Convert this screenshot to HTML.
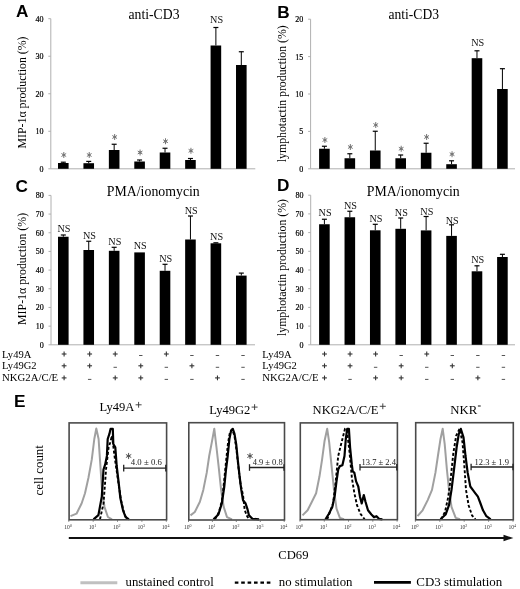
<!DOCTYPE html>
<html><head><meta charset="utf-8"><title>Figure</title>
<style>html,body{margin:0;padding:0;background:#fff;width:520px;height:589px;overflow:hidden;font-family:"Liberation Serif",serif;}svg{display:block;will-change:transform}</style>
</head><body>
<svg width="520" height="589" viewBox="0 0 520 589">
<rect width="520" height="589" fill="#fff"/>
<text x="16.0" y="17.2" font-family="'Liberation Sans', sans-serif" font-size="17.2" fill="#000" text-anchor="start" font-weight="bold">A</text>
<text x="277.3" y="17.9" font-family="'Liberation Sans', sans-serif" font-size="17.2" fill="#000" text-anchor="start" font-weight="bold">B</text>
<text x="15.6" y="191.9" font-family="'Liberation Sans', sans-serif" font-size="17.2" fill="#000" text-anchor="start" font-weight="bold">C</text>
<text x="277.0" y="191.4" font-family="'Liberation Sans', sans-serif" font-size="17.2" fill="#000" text-anchor="start" font-weight="bold">D</text>
<text x="13.9" y="407.0" font-family="'Liberation Sans', sans-serif" font-size="17.2" fill="#000" text-anchor="start" font-weight="bold">E</text>
<text x="128.5" y="18.7" font-family="'Liberation Serif', serif" font-size="14" fill="#000" text-anchor="start" font-weight="normal" textLength="51" lengthAdjust="spacingAndGlyphs">anti-CD3</text>
<text x="388.5" y="18.7" font-family="'Liberation Serif', serif" font-size="14" fill="#000" text-anchor="start" font-weight="normal" textLength="50.5" lengthAdjust="spacingAndGlyphs">anti-CD3</text>
<text x="106.8" y="195.8" font-family="'Liberation Serif', serif" font-size="14" fill="#000" text-anchor="start" font-weight="normal" textLength="93" lengthAdjust="spacingAndGlyphs">PMA/ionomycin</text>
<text x="366.8" y="195.8" font-family="'Liberation Serif', serif" font-size="14" fill="#000" text-anchor="start" font-weight="normal" textLength="93" lengthAdjust="spacingAndGlyphs">PMA/ionomycin</text>
<text x="0" y="0" transform="translate(26.4,92.5) rotate(-90)" font-family="'Liberation Serif', serif" font-size="13" text-anchor="middle" fill="#000" textLength="112" lengthAdjust="spacingAndGlyphs">MIP-1α production (%)</text>
<text x="0" y="0" transform="translate(286.2,93.7) rotate(-90)" font-family="'Liberation Serif', serif" font-size="13" text-anchor="middle" fill="#000" textLength="137" lengthAdjust="spacingAndGlyphs">lymphotactin production (%)</text>
<text x="0" y="0" transform="translate(26.4,268.9) rotate(-90)" font-family="'Liberation Serif', serif" font-size="13" text-anchor="middle" fill="#000" textLength="112" lengthAdjust="spacingAndGlyphs">MIP-1α production (%)</text>
<text x="0" y="0" transform="translate(286.2,267.5) rotate(-90)" font-family="'Liberation Serif', serif" font-size="13" text-anchor="middle" fill="#000" textLength="137" lengthAdjust="spacingAndGlyphs">lymphotactin production (%)</text>
<line x1="50.8" y1="18.7" x2="50.8" y2="168.8" stroke="#b0b0b0" stroke-width="1"/>
<line x1="50.8" y1="168.8" x2="255.3" y2="168.8" stroke="#b0b0b0" stroke-width="1"/>
<line x1="48.3" y1="168.8" x2="50.8" y2="168.8" stroke="#b0b0b0" stroke-width="1"/>
<text x="43.5" y="171.8" font-family="'Liberation Serif', serif" font-size="8.0" fill="#000" text-anchor="end" font-weight="normal" stroke="#000" stroke-width="0.2">0</text>
<line x1="48.3" y1="131.275" x2="50.8" y2="131.275" stroke="#b0b0b0" stroke-width="1"/>
<text x="43.5" y="134.275" font-family="'Liberation Serif', serif" font-size="8.0" fill="#000" text-anchor="end" font-weight="normal" stroke="#000" stroke-width="0.2">10</text>
<line x1="48.3" y1="93.75" x2="50.8" y2="93.75" stroke="#b0b0b0" stroke-width="1"/>
<text x="43.5" y="96.75" font-family="'Liberation Serif', serif" font-size="8.0" fill="#000" text-anchor="end" font-weight="normal" stroke="#000" stroke-width="0.2">20</text>
<line x1="48.3" y1="56.224999999999994" x2="50.8" y2="56.224999999999994" stroke="#b0b0b0" stroke-width="1"/>
<text x="43.5" y="59.224999999999994" font-family="'Liberation Serif', serif" font-size="8.0" fill="#000" text-anchor="end" font-weight="normal" stroke="#000" stroke-width="0.2">30</text>
<line x1="48.3" y1="18.69999999999999" x2="50.8" y2="18.69999999999999" stroke="#b0b0b0" stroke-width="1"/>
<text x="43.5" y="21.69999999999999" font-family="'Liberation Serif', serif" font-size="8.0" fill="#000" text-anchor="end" font-weight="normal" stroke="#000" stroke-width="0.2">40</text>
<rect x="58.00" y="163.00" width="10.60" height="5.80" fill="#000"/>
<line x1="63.3" y1="162.2" x2="63.3" y2="163" stroke="#000" stroke-width="1"/>
<line x1="60.8" y1="162.2" x2="65.8" y2="162.2" stroke="#000" stroke-width="1.2"/>
<path d="M63.80,152.40L63.80,157.60M65.83,153.70L61.77,156.30M65.83,156.30L61.77,153.70" stroke="#777777" stroke-width="1.0" stroke-linecap="round" fill="none"/>
<circle cx="63.80" cy="155.00" r="1.30" fill="#777777"/>
<rect x="83.43" y="163.20" width="10.60" height="5.60" fill="#000"/>
<line x1="88.73" y1="161.4" x2="88.73" y2="163.2" stroke="#000" stroke-width="1"/>
<line x1="86.23" y1="161.4" x2="91.23" y2="161.4" stroke="#000" stroke-width="1.2"/>
<path d="M89.23,152.40L89.23,157.60M91.26,153.70L87.20,156.30M91.26,156.30L87.20,153.70" stroke="#777777" stroke-width="1.0" stroke-linecap="round" fill="none"/>
<circle cx="89.23" cy="155.00" r="1.30" fill="#777777"/>
<rect x="108.86" y="150.00" width="10.60" height="18.80" fill="#000"/>
<line x1="114.16" y1="144.25" x2="114.16" y2="150" stroke="#000" stroke-width="1"/>
<line x1="111.66" y1="144.25" x2="116.66" y2="144.25" stroke="#000" stroke-width="1.2"/>
<path d="M114.66,134.40L114.66,139.60M116.69,135.70L112.63,138.30M116.69,138.30L112.63,135.70" stroke="#777777" stroke-width="1.0" stroke-linecap="round" fill="none"/>
<circle cx="114.66" cy="137.00" r="1.30" fill="#777777"/>
<rect x="134.29" y="161.50" width="10.60" height="7.30" fill="#000"/>
<line x1="139.59" y1="160" x2="139.59" y2="161.5" stroke="#000" stroke-width="1"/>
<line x1="137.09" y1="160" x2="142.09" y2="160" stroke="#000" stroke-width="1.2"/>
<path d="M140.09,149.90L140.09,155.10M142.12,151.20L138.06,153.80M142.12,153.80L138.06,151.20" stroke="#777777" stroke-width="1.0" stroke-linecap="round" fill="none"/>
<circle cx="140.09" cy="152.50" r="1.30" fill="#777777"/>
<rect x="159.72" y="152.50" width="10.60" height="16.30" fill="#000"/>
<line x1="165.02" y1="148.25" x2="165.02" y2="152.5" stroke="#000" stroke-width="1"/>
<line x1="162.52" y1="148.25" x2="167.52" y2="148.25" stroke="#000" stroke-width="1.2"/>
<path d="M165.52,138.65L165.52,143.85M167.55,139.95L163.49,142.55M167.55,142.55L163.49,139.95" stroke="#777777" stroke-width="1.0" stroke-linecap="round" fill="none"/>
<circle cx="165.52" cy="141.25" r="1.30" fill="#777777"/>
<rect x="185.15" y="160.00" width="10.60" height="8.80" fill="#000"/>
<line x1="190.45000000000002" y1="158.5" x2="190.45000000000002" y2="160" stroke="#000" stroke-width="1"/>
<line x1="187.95000000000002" y1="158.5" x2="192.95000000000002" y2="158.5" stroke="#000" stroke-width="1.2"/>
<path d="M190.95,148.20L190.95,153.40M192.98,149.50L188.92,152.10M192.98,152.10L188.92,149.50" stroke="#777777" stroke-width="1.0" stroke-linecap="round" fill="none"/>
<circle cx="190.95" cy="150.80" r="1.30" fill="#777777"/>
<rect x="210.58" y="45.50" width="10.60" height="123.30" fill="#000"/>
<line x1="215.88" y1="27.5" x2="215.88" y2="45.5" stroke="#000" stroke-width="1"/>
<line x1="213.38" y1="27.5" x2="218.38" y2="27.5" stroke="#000" stroke-width="1.2"/>
<text x="216.57999999999998" y="23.3" font-family="'Liberation Serif', serif" font-size="10.2" fill="#111" text-anchor="middle" font-weight="normal">NS</text>
<rect x="236.01" y="65.00" width="10.60" height="103.80" fill="#000"/>
<line x1="241.31" y1="51.75" x2="241.31" y2="65" stroke="#000" stroke-width="1"/>
<line x1="238.81" y1="51.75" x2="243.81" y2="51.75" stroke="#000" stroke-width="1.2"/>
<line x1="310.6" y1="19.2" x2="310.6" y2="168.8" stroke="#b0b0b0" stroke-width="1"/>
<line x1="310.6" y1="168.8" x2="515" y2="168.8" stroke="#b0b0b0" stroke-width="1"/>
<line x1="308.1" y1="168.8" x2="310.6" y2="168.8" stroke="#b0b0b0" stroke-width="1"/>
<text x="303.3" y="171.8" font-family="'Liberation Serif', serif" font-size="8.0" fill="#000" text-anchor="end" font-weight="normal" stroke="#000" stroke-width="0.2">0</text>
<line x1="308.1" y1="131.4" x2="310.6" y2="131.4" stroke="#b0b0b0" stroke-width="1"/>
<text x="303.3" y="134.4" font-family="'Liberation Serif', serif" font-size="8.0" fill="#000" text-anchor="end" font-weight="normal" stroke="#000" stroke-width="0.2">5</text>
<line x1="308.1" y1="94.0" x2="310.6" y2="94.0" stroke="#b0b0b0" stroke-width="1"/>
<text x="303.3" y="97.0" font-family="'Liberation Serif', serif" font-size="8.0" fill="#000" text-anchor="end" font-weight="normal" stroke="#000" stroke-width="0.2">10</text>
<line x1="308.1" y1="56.599999999999994" x2="310.6" y2="56.599999999999994" stroke="#b0b0b0" stroke-width="1"/>
<text x="303.3" y="59.599999999999994" font-family="'Liberation Serif', serif" font-size="8.0" fill="#000" text-anchor="end" font-weight="normal" stroke="#000" stroke-width="0.2">15</text>
<line x1="308.1" y1="19.19999999999999" x2="310.6" y2="19.19999999999999" stroke="#b0b0b0" stroke-width="1"/>
<text x="303.3" y="22.19999999999999" font-family="'Liberation Serif', serif" font-size="8.0" fill="#000" text-anchor="end" font-weight="normal" stroke="#000" stroke-width="0.2">20</text>
<rect x="319.10" y="148.75" width="10.60" height="20.05" fill="#000"/>
<line x1="324.4" y1="146.25" x2="324.4" y2="148.75" stroke="#000" stroke-width="1"/>
<line x1="321.9" y1="146.25" x2="326.9" y2="146.25" stroke="#000" stroke-width="1.2"/>
<path d="M324.90,137.40L324.90,142.60M326.93,138.70L322.87,141.30M326.93,141.30L322.87,138.70" stroke="#777777" stroke-width="1.0" stroke-linecap="round" fill="none"/>
<circle cx="324.90" cy="140.00" r="1.30" fill="#777777"/>
<rect x="344.53" y="158.25" width="10.60" height="10.55" fill="#000"/>
<line x1="349.83" y1="153.75" x2="349.83" y2="158.25" stroke="#000" stroke-width="1"/>
<line x1="347.33" y1="153.75" x2="352.33" y2="153.75" stroke="#000" stroke-width="1.2"/>
<path d="M350.33,144.40L350.33,149.60M352.36,145.70L348.30,148.30M352.36,148.30L348.30,145.70" stroke="#777777" stroke-width="1.0" stroke-linecap="round" fill="none"/>
<circle cx="350.33" cy="147.00" r="1.30" fill="#777777"/>
<rect x="369.96" y="150.50" width="10.60" height="18.30" fill="#000"/>
<line x1="375.26" y1="131.25" x2="375.26" y2="150.5" stroke="#000" stroke-width="1"/>
<line x1="372.76" y1="131.25" x2="377.76" y2="131.25" stroke="#000" stroke-width="1.2"/>
<path d="M375.76,122.40L375.76,127.60M377.79,123.70L373.73,126.30M377.79,126.30L373.73,123.70" stroke="#777777" stroke-width="1.0" stroke-linecap="round" fill="none"/>
<circle cx="375.76" cy="125.00" r="1.30" fill="#777777"/>
<rect x="395.39" y="158.25" width="10.60" height="10.55" fill="#000"/>
<line x1="400.69" y1="155" x2="400.69" y2="158.25" stroke="#000" stroke-width="1"/>
<line x1="398.19" y1="155" x2="403.19" y2="155" stroke="#000" stroke-width="1.2"/>
<path d="M401.19,146.15L401.19,151.35M403.22,147.45L399.16,150.05M403.22,150.05L399.16,147.45" stroke="#777777" stroke-width="1.0" stroke-linecap="round" fill="none"/>
<circle cx="401.19" cy="148.75" r="1.30" fill="#777777"/>
<rect x="420.82" y="152.75" width="10.60" height="16.05" fill="#000"/>
<line x1="426.11999999999995" y1="143.25" x2="426.11999999999995" y2="152.75" stroke="#000" stroke-width="1"/>
<line x1="423.61999999999995" y1="143.25" x2="428.61999999999995" y2="143.25" stroke="#000" stroke-width="1.2"/>
<path d="M426.62,134.40L426.62,139.60M428.65,135.70L424.59,138.30M428.65,138.30L424.59,135.70" stroke="#777777" stroke-width="1.0" stroke-linecap="round" fill="none"/>
<circle cx="426.62" cy="137.00" r="1.30" fill="#777777"/>
<rect x="446.25" y="164.20" width="10.60" height="4.60" fill="#000"/>
<line x1="451.55" y1="160.8" x2="451.55" y2="164.2" stroke="#000" stroke-width="1"/>
<line x1="449.05" y1="160.8" x2="454.05" y2="160.8" stroke="#000" stroke-width="1.2"/>
<path d="M452.05,151.60L452.05,156.80M454.08,152.90L450.02,155.50M454.08,155.50L450.02,152.90" stroke="#777777" stroke-width="1.0" stroke-linecap="round" fill="none"/>
<circle cx="452.05" cy="154.20" r="1.30" fill="#777777"/>
<rect x="471.68" y="58.20" width="10.60" height="110.60" fill="#000"/>
<line x1="476.97999999999996" y1="50.8" x2="476.97999999999996" y2="58.2" stroke="#000" stroke-width="1"/>
<line x1="474.47999999999996" y1="50.8" x2="479.47999999999996" y2="50.8" stroke="#000" stroke-width="1.2"/>
<text x="477.67999999999995" y="45.599999999999994" font-family="'Liberation Serif', serif" font-size="10.2" fill="#111" text-anchor="middle" font-weight="normal">NS</text>
<rect x="497.11" y="89.00" width="10.60" height="79.80" fill="#000"/>
<line x1="502.40999999999997" y1="68.7" x2="502.40999999999997" y2="89" stroke="#000" stroke-width="1"/>
<line x1="499.90999999999997" y1="68.7" x2="504.90999999999997" y2="68.7" stroke="#000" stroke-width="1.2"/>
<line x1="51.0" y1="195.4" x2="51.0" y2="344.8" stroke="#b0b0b0" stroke-width="1"/>
<line x1="51.0" y1="344.8" x2="255" y2="344.8" stroke="#b0b0b0" stroke-width="1"/>
<line x1="48.5" y1="344.8" x2="51.0" y2="344.8" stroke="#b0b0b0" stroke-width="1"/>
<text x="43.7" y="347.8" font-family="'Liberation Serif', serif" font-size="8.0" fill="#000" text-anchor="end" font-weight="normal" stroke="#000" stroke-width="0.2">0</text>
<line x1="48.5" y1="326.125" x2="51.0" y2="326.125" stroke="#b0b0b0" stroke-width="1"/>
<text x="43.7" y="329.125" font-family="'Liberation Serif', serif" font-size="8.0" fill="#000" text-anchor="end" font-weight="normal" stroke="#000" stroke-width="0.2">10</text>
<line x1="48.5" y1="307.45" x2="51.0" y2="307.45" stroke="#b0b0b0" stroke-width="1"/>
<text x="43.7" y="310.45" font-family="'Liberation Serif', serif" font-size="8.0" fill="#000" text-anchor="end" font-weight="normal" stroke="#000" stroke-width="0.2">20</text>
<line x1="48.5" y1="288.775" x2="51.0" y2="288.775" stroke="#b0b0b0" stroke-width="1"/>
<text x="43.7" y="291.775" font-family="'Liberation Serif', serif" font-size="8.0" fill="#000" text-anchor="end" font-weight="normal" stroke="#000" stroke-width="0.2">30</text>
<line x1="48.5" y1="270.1" x2="51.0" y2="270.1" stroke="#b0b0b0" stroke-width="1"/>
<text x="43.7" y="273.1" font-family="'Liberation Serif', serif" font-size="8.0" fill="#000" text-anchor="end" font-weight="normal" stroke="#000" stroke-width="0.2">40</text>
<line x1="48.5" y1="251.425" x2="51.0" y2="251.425" stroke="#b0b0b0" stroke-width="1"/>
<text x="43.7" y="254.425" font-family="'Liberation Serif', serif" font-size="8.0" fill="#000" text-anchor="end" font-weight="normal" stroke="#000" stroke-width="0.2">50</text>
<line x1="48.5" y1="232.75" x2="51.0" y2="232.75" stroke="#b0b0b0" stroke-width="1"/>
<text x="43.7" y="235.75" font-family="'Liberation Serif', serif" font-size="8.0" fill="#000" text-anchor="end" font-weight="normal" stroke="#000" stroke-width="0.2">60</text>
<line x1="48.5" y1="214.075" x2="51.0" y2="214.075" stroke="#b0b0b0" stroke-width="1"/>
<text x="43.7" y="217.075" font-family="'Liberation Serif', serif" font-size="8.0" fill="#000" text-anchor="end" font-weight="normal" stroke="#000" stroke-width="0.2">70</text>
<line x1="48.5" y1="195.4" x2="51.0" y2="195.4" stroke="#b0b0b0" stroke-width="1"/>
<text x="43.7" y="198.4" font-family="'Liberation Serif', serif" font-size="8.0" fill="#000" text-anchor="end" font-weight="normal" stroke="#000" stroke-width="0.2">80</text>
<rect x="58.00" y="236.75" width="10.60" height="108.05" fill="#000"/>
<line x1="63.3" y1="235" x2="63.3" y2="236.75" stroke="#000" stroke-width="1"/>
<line x1="60.8" y1="235" x2="65.8" y2="235" stroke="#000" stroke-width="1.2"/>
<text x="64.0" y="231.8" font-family="'Liberation Serif', serif" font-size="10.2" fill="#111" text-anchor="middle" font-weight="normal">NS</text>
<rect x="83.43" y="250.00" width="10.60" height="94.80" fill="#000"/>
<line x1="88.73" y1="241.25" x2="88.73" y2="250" stroke="#000" stroke-width="1"/>
<line x1="86.23" y1="241.25" x2="91.23" y2="241.25" stroke="#000" stroke-width="1.2"/>
<text x="89.43" y="239.3" font-family="'Liberation Serif', serif" font-size="10.2" fill="#111" text-anchor="middle" font-weight="normal">NS</text>
<rect x="108.86" y="250.80" width="10.60" height="94.00" fill="#000"/>
<line x1="114.16" y1="247.3" x2="114.16" y2="250.8" stroke="#000" stroke-width="1"/>
<line x1="111.66" y1="247.3" x2="116.66" y2="247.3" stroke="#000" stroke-width="1.2"/>
<text x="114.86" y="244.60000000000002" font-family="'Liberation Serif', serif" font-size="10.2" fill="#111" text-anchor="middle" font-weight="normal">NS</text>
<rect x="134.29" y="252.40" width="10.60" height="92.40" fill="#000"/>
<text x="140.29" y="248.9" font-family="'Liberation Serif', serif" font-size="10.2" fill="#111" text-anchor="middle" font-weight="normal">NS</text>
<rect x="159.72" y="270.80" width="10.60" height="74.00" fill="#000"/>
<line x1="165.02" y1="264.3" x2="165.02" y2="270.8" stroke="#000" stroke-width="1"/>
<line x1="162.52" y1="264.3" x2="167.52" y2="264.3" stroke="#000" stroke-width="1.2"/>
<text x="165.72" y="261.6" font-family="'Liberation Serif', serif" font-size="10.2" fill="#111" text-anchor="middle" font-weight="normal">NS</text>
<rect x="185.15" y="239.50" width="10.60" height="105.30" fill="#000"/>
<line x1="190.45000000000002" y1="216" x2="190.45000000000002" y2="239.5" stroke="#000" stroke-width="1"/>
<line x1="187.95000000000002" y1="216" x2="192.95000000000002" y2="216" stroke="#000" stroke-width="1.2"/>
<text x="191.15" y="213.8" font-family="'Liberation Serif', serif" font-size="10.2" fill="#111" text-anchor="middle" font-weight="normal">NS</text>
<rect x="210.58" y="243.30" width="10.60" height="101.50" fill="#000"/>
<line x1="215.88" y1="242.8" x2="215.88" y2="243.3" stroke="#000" stroke-width="1"/>
<line x1="213.38" y1="242.8" x2="218.38" y2="242.8" stroke="#000" stroke-width="1.2"/>
<text x="216.57999999999998" y="240.0" font-family="'Liberation Serif', serif" font-size="10.2" fill="#111" text-anchor="middle" font-weight="normal">NS</text>
<rect x="236.01" y="275.60" width="10.60" height="69.20" fill="#000"/>
<line x1="241.31" y1="273.1" x2="241.31" y2="275.6" stroke="#000" stroke-width="1"/>
<line x1="238.81" y1="273.1" x2="243.81" y2="273.1" stroke="#000" stroke-width="1.2"/>
<line x1="310.7" y1="195.2" x2="310.7" y2="344.8" stroke="#b0b0b0" stroke-width="1"/>
<line x1="310.7" y1="344.8" x2="515" y2="344.8" stroke="#b0b0b0" stroke-width="1"/>
<line x1="308.2" y1="344.8" x2="310.7" y2="344.8" stroke="#b0b0b0" stroke-width="1"/>
<text x="303.4" y="347.8" font-family="'Liberation Serif', serif" font-size="8.0" fill="#000" text-anchor="end" font-weight="normal" stroke="#000" stroke-width="0.2">0</text>
<line x1="308.2" y1="326.1" x2="310.7" y2="326.1" stroke="#b0b0b0" stroke-width="1"/>
<text x="303.4" y="329.1" font-family="'Liberation Serif', serif" font-size="8.0" fill="#000" text-anchor="end" font-weight="normal" stroke="#000" stroke-width="0.2">10</text>
<line x1="308.2" y1="307.4" x2="310.7" y2="307.4" stroke="#b0b0b0" stroke-width="1"/>
<text x="303.4" y="310.4" font-family="'Liberation Serif', serif" font-size="8.0" fill="#000" text-anchor="end" font-weight="normal" stroke="#000" stroke-width="0.2">20</text>
<line x1="308.2" y1="288.7" x2="310.7" y2="288.7" stroke="#b0b0b0" stroke-width="1"/>
<text x="303.4" y="291.7" font-family="'Liberation Serif', serif" font-size="8.0" fill="#000" text-anchor="end" font-weight="normal" stroke="#000" stroke-width="0.2">30</text>
<line x1="308.2" y1="270.0" x2="310.7" y2="270.0" stroke="#b0b0b0" stroke-width="1"/>
<text x="303.4" y="273.0" font-family="'Liberation Serif', serif" font-size="8.0" fill="#000" text-anchor="end" font-weight="normal" stroke="#000" stroke-width="0.2">40</text>
<line x1="308.2" y1="251.3" x2="310.7" y2="251.3" stroke="#b0b0b0" stroke-width="1"/>
<text x="303.4" y="254.3" font-family="'Liberation Serif', serif" font-size="8.0" fill="#000" text-anchor="end" font-weight="normal" stroke="#000" stroke-width="0.2">50</text>
<line x1="308.2" y1="232.6" x2="310.7" y2="232.6" stroke="#b0b0b0" stroke-width="1"/>
<text x="303.4" y="235.6" font-family="'Liberation Serif', serif" font-size="8.0" fill="#000" text-anchor="end" font-weight="normal" stroke="#000" stroke-width="0.2">60</text>
<line x1="308.2" y1="213.89999999999998" x2="310.7" y2="213.89999999999998" stroke="#b0b0b0" stroke-width="1"/>
<text x="303.4" y="216.89999999999998" font-family="'Liberation Serif', serif" font-size="8.0" fill="#000" text-anchor="end" font-weight="normal" stroke="#000" stroke-width="0.2">70</text>
<line x1="308.2" y1="195.2" x2="310.7" y2="195.2" stroke="#b0b0b0" stroke-width="1"/>
<text x="303.4" y="198.2" font-family="'Liberation Serif', serif" font-size="8.0" fill="#000" text-anchor="end" font-weight="normal" stroke="#000" stroke-width="0.2">80</text>
<rect x="319.10" y="224.25" width="10.60" height="120.55" fill="#000"/>
<line x1="324.4" y1="219.25" x2="324.4" y2="224.25" stroke="#000" stroke-width="1"/>
<line x1="321.9" y1="219.25" x2="326.9" y2="219.25" stroke="#000" stroke-width="1.2"/>
<text x="325.09999999999997" y="216.3" font-family="'Liberation Serif', serif" font-size="10.2" fill="#111" text-anchor="middle" font-weight="normal">NS</text>
<rect x="344.53" y="217.25" width="10.60" height="127.55" fill="#000"/>
<line x1="349.83" y1="211.25" x2="349.83" y2="217.25" stroke="#000" stroke-width="1"/>
<line x1="347.33" y1="211.25" x2="352.33" y2="211.25" stroke="#000" stroke-width="1.2"/>
<text x="350.53" y="209.3" font-family="'Liberation Serif', serif" font-size="10.2" fill="#111" text-anchor="middle" font-weight="normal">NS</text>
<rect x="369.96" y="230.30" width="10.60" height="114.50" fill="#000"/>
<line x1="375.26" y1="224.3" x2="375.26" y2="230.3" stroke="#000" stroke-width="1"/>
<line x1="372.76" y1="224.3" x2="377.76" y2="224.3" stroke="#000" stroke-width="1.2"/>
<text x="375.96" y="221.9" font-family="'Liberation Serif', serif" font-size="10.2" fill="#111" text-anchor="middle" font-weight="normal">NS</text>
<rect x="395.39" y="228.80" width="10.60" height="116.00" fill="#000"/>
<line x1="400.69" y1="218" x2="400.69" y2="228.8" stroke="#000" stroke-width="1"/>
<line x1="398.19" y1="218" x2="403.19" y2="218" stroke="#000" stroke-width="1.2"/>
<text x="401.39" y="215.8" font-family="'Liberation Serif', serif" font-size="10.2" fill="#111" text-anchor="middle" font-weight="normal">NS</text>
<rect x="420.82" y="230.40" width="10.60" height="114.40" fill="#000"/>
<line x1="426.11999999999995" y1="216.5" x2="426.11999999999995" y2="230.4" stroke="#000" stroke-width="1"/>
<line x1="423.61999999999995" y1="216.5" x2="428.61999999999995" y2="216.5" stroke="#000" stroke-width="1.2"/>
<text x="426.81999999999994" y="215.3" font-family="'Liberation Serif', serif" font-size="10.2" fill="#111" text-anchor="middle" font-weight="normal">NS</text>
<rect x="446.25" y="235.90" width="10.60" height="108.90" fill="#000"/>
<line x1="451.55" y1="224.8" x2="451.55" y2="235.9" stroke="#000" stroke-width="1"/>
<line x1="449.05" y1="224.8" x2="454.05" y2="224.8" stroke="#000" stroke-width="1.2"/>
<text x="452.25" y="223.5" font-family="'Liberation Serif', serif" font-size="10.2" fill="#111" text-anchor="middle" font-weight="normal">NS</text>
<rect x="471.68" y="271.30" width="10.60" height="73.50" fill="#000"/>
<line x1="476.97999999999996" y1="265.8" x2="476.97999999999996" y2="271.3" stroke="#000" stroke-width="1"/>
<line x1="474.47999999999996" y1="265.8" x2="479.47999999999996" y2="265.8" stroke="#000" stroke-width="1.2"/>
<text x="477.67999999999995" y="263.0" font-family="'Liberation Serif', serif" font-size="10.2" fill="#111" text-anchor="middle" font-weight="normal">NS</text>
<rect x="497.11" y="257.00" width="10.60" height="87.80" fill="#000"/>
<line x1="502.40999999999997" y1="254.3" x2="502.40999999999997" y2="257" stroke="#000" stroke-width="1"/>
<line x1="499.90999999999997" y1="254.3" x2="504.90999999999997" y2="254.3" stroke="#000" stroke-width="1.2"/>
<text x="2" y="357.7" font-family="'Liberation Serif', serif" font-size="11" fill="#000" text-anchor="start" font-weight="normal" textLength="29.3" lengthAdjust="spacingAndGlyphs">Ly49A</text>
<text x="2" y="369.2" font-family="'Liberation Serif', serif" font-size="11" fill="#000" text-anchor="start" font-weight="normal" textLength="34.6" lengthAdjust="spacingAndGlyphs">Ly49G2</text>
<text x="2" y="380.6" font-family="'Liberation Serif', serif" font-size="11" fill="#000" text-anchor="start" font-weight="normal" textLength="56.2" lengthAdjust="spacingAndGlyphs">NKG2A/C/E</text>
<line x1="61.699999999999996" y1="354.0" x2="66.5" y2="354.0" stroke="#333" stroke-width="1.1"/>
<line x1="64.1" y1="351.6" x2="64.1" y2="356.4" stroke="#333" stroke-width="1.1"/>
<line x1="87.25999999999999" y1="354.0" x2="92.06" y2="354.0" stroke="#333" stroke-width="1.1"/>
<line x1="89.66" y1="351.6" x2="89.66" y2="356.4" stroke="#333" stroke-width="1.1"/>
<line x1="112.82" y1="354.0" x2="117.62" y2="354.0" stroke="#333" stroke-width="1.1"/>
<line x1="115.22" y1="351.6" x2="115.22" y2="356.4" stroke="#333" stroke-width="1.1"/>
<line x1="139.07999999999998" y1="355.5" x2="142.47999999999996" y2="355.5" stroke="#555" stroke-width="1.0"/>
<line x1="163.93999999999997" y1="354.0" x2="168.73999999999998" y2="354.0" stroke="#333" stroke-width="1.1"/>
<line x1="166.33999999999997" y1="351.6" x2="166.33999999999997" y2="356.4" stroke="#333" stroke-width="1.1"/>
<line x1="190.2" y1="355.5" x2="193.59999999999997" y2="355.5" stroke="#555" stroke-width="1.0"/>
<line x1="215.76" y1="355.5" x2="219.15999999999997" y2="355.5" stroke="#555" stroke-width="1.0"/>
<line x1="241.32" y1="355.5" x2="244.71999999999997" y2="355.5" stroke="#555" stroke-width="1.0"/>
<line x1="61.699999999999996" y1="365.8" x2="66.5" y2="365.8" stroke="#333" stroke-width="1.1"/>
<line x1="64.1" y1="363.40000000000003" x2="64.1" y2="368.2" stroke="#333" stroke-width="1.1"/>
<line x1="87.25999999999999" y1="365.8" x2="92.06" y2="365.8" stroke="#333" stroke-width="1.1"/>
<line x1="89.66" y1="363.40000000000003" x2="89.66" y2="368.2" stroke="#333" stroke-width="1.1"/>
<line x1="113.52" y1="367.3" x2="116.92" y2="367.3" stroke="#555" stroke-width="1.0"/>
<line x1="138.37999999999997" y1="365.8" x2="143.17999999999998" y2="365.8" stroke="#333" stroke-width="1.1"/>
<line x1="140.77999999999997" y1="363.40000000000003" x2="140.77999999999997" y2="368.2" stroke="#333" stroke-width="1.1"/>
<line x1="164.64" y1="367.3" x2="168.03999999999996" y2="367.3" stroke="#555" stroke-width="1.0"/>
<line x1="189.49999999999997" y1="365.8" x2="194.29999999999998" y2="365.8" stroke="#333" stroke-width="1.1"/>
<line x1="191.89999999999998" y1="363.40000000000003" x2="191.89999999999998" y2="368.2" stroke="#333" stroke-width="1.1"/>
<line x1="215.76" y1="367.3" x2="219.15999999999997" y2="367.3" stroke="#555" stroke-width="1.0"/>
<line x1="241.32" y1="367.3" x2="244.71999999999997" y2="367.3" stroke="#555" stroke-width="1.0"/>
<line x1="61.699999999999996" y1="377.9" x2="66.5" y2="377.9" stroke="#333" stroke-width="1.1"/>
<line x1="64.1" y1="375.5" x2="64.1" y2="380.29999999999995" stroke="#333" stroke-width="1.1"/>
<line x1="87.96" y1="379.4" x2="91.36" y2="379.4" stroke="#555" stroke-width="1.0"/>
<line x1="112.82" y1="377.9" x2="117.62" y2="377.9" stroke="#333" stroke-width="1.1"/>
<line x1="115.22" y1="375.5" x2="115.22" y2="380.29999999999995" stroke="#333" stroke-width="1.1"/>
<line x1="138.37999999999997" y1="377.9" x2="143.17999999999998" y2="377.9" stroke="#333" stroke-width="1.1"/>
<line x1="140.77999999999997" y1="375.5" x2="140.77999999999997" y2="380.29999999999995" stroke="#333" stroke-width="1.1"/>
<line x1="164.64" y1="379.4" x2="168.03999999999996" y2="379.4" stroke="#555" stroke-width="1.0"/>
<line x1="190.2" y1="379.4" x2="193.59999999999997" y2="379.4" stroke="#555" stroke-width="1.0"/>
<line x1="215.05999999999997" y1="377.9" x2="219.85999999999999" y2="377.9" stroke="#333" stroke-width="1.1"/>
<line x1="217.45999999999998" y1="375.5" x2="217.45999999999998" y2="380.29999999999995" stroke="#333" stroke-width="1.1"/>
<line x1="241.32" y1="379.4" x2="244.71999999999997" y2="379.4" stroke="#555" stroke-width="1.0"/>
<text x="262.3" y="357.7" font-family="'Liberation Serif', serif" font-size="11" fill="#000" text-anchor="start" font-weight="normal" textLength="29.3" lengthAdjust="spacingAndGlyphs">Ly49A</text>
<text x="262.3" y="369.2" font-family="'Liberation Serif', serif" font-size="11" fill="#000" text-anchor="start" font-weight="normal" textLength="34.6" lengthAdjust="spacingAndGlyphs">Ly49G2</text>
<text x="262.3" y="380.6" font-family="'Liberation Serif', serif" font-size="11" fill="#000" text-anchor="start" font-weight="normal" textLength="56.2" lengthAdjust="spacingAndGlyphs">NKG2A/C/E</text>
<line x1="322.1" y1="354.0" x2="326.9" y2="354.0" stroke="#333" stroke-width="1.1"/>
<line x1="324.5" y1="351.6" x2="324.5" y2="356.4" stroke="#333" stroke-width="1.1"/>
<line x1="347.66" y1="354.0" x2="352.46" y2="354.0" stroke="#333" stroke-width="1.1"/>
<line x1="350.06" y1="351.6" x2="350.06" y2="356.4" stroke="#333" stroke-width="1.1"/>
<line x1="373.22" y1="354.0" x2="378.02" y2="354.0" stroke="#333" stroke-width="1.1"/>
<line x1="375.62" y1="351.6" x2="375.62" y2="356.4" stroke="#333" stroke-width="1.1"/>
<line x1="399.48" y1="355.5" x2="402.88" y2="355.5" stroke="#555" stroke-width="1.0"/>
<line x1="424.34000000000003" y1="354.0" x2="429.14" y2="354.0" stroke="#333" stroke-width="1.1"/>
<line x1="426.74" y1="351.6" x2="426.74" y2="356.4" stroke="#333" stroke-width="1.1"/>
<line x1="450.6" y1="355.5" x2="454.0" y2="355.5" stroke="#555" stroke-width="1.0"/>
<line x1="476.16" y1="355.5" x2="479.56" y2="355.5" stroke="#555" stroke-width="1.0"/>
<line x1="501.71999999999997" y1="355.5" x2="505.11999999999995" y2="355.5" stroke="#555" stroke-width="1.0"/>
<line x1="322.1" y1="365.8" x2="326.9" y2="365.8" stroke="#333" stroke-width="1.1"/>
<line x1="324.5" y1="363.40000000000003" x2="324.5" y2="368.2" stroke="#333" stroke-width="1.1"/>
<line x1="347.66" y1="365.8" x2="352.46" y2="365.8" stroke="#333" stroke-width="1.1"/>
<line x1="350.06" y1="363.40000000000003" x2="350.06" y2="368.2" stroke="#333" stroke-width="1.1"/>
<line x1="373.92" y1="367.3" x2="377.32" y2="367.3" stroke="#555" stroke-width="1.0"/>
<line x1="398.78000000000003" y1="365.8" x2="403.58" y2="365.8" stroke="#333" stroke-width="1.1"/>
<line x1="401.18" y1="363.40000000000003" x2="401.18" y2="368.2" stroke="#333" stroke-width="1.1"/>
<line x1="425.04" y1="367.3" x2="428.44" y2="367.3" stroke="#555" stroke-width="1.0"/>
<line x1="449.90000000000003" y1="365.8" x2="454.7" y2="365.8" stroke="#333" stroke-width="1.1"/>
<line x1="452.3" y1="363.40000000000003" x2="452.3" y2="368.2" stroke="#333" stroke-width="1.1"/>
<line x1="476.16" y1="367.3" x2="479.56" y2="367.3" stroke="#555" stroke-width="1.0"/>
<line x1="501.71999999999997" y1="367.3" x2="505.11999999999995" y2="367.3" stroke="#555" stroke-width="1.0"/>
<line x1="322.1" y1="377.9" x2="326.9" y2="377.9" stroke="#333" stroke-width="1.1"/>
<line x1="324.5" y1="375.5" x2="324.5" y2="380.29999999999995" stroke="#333" stroke-width="1.1"/>
<line x1="348.36" y1="379.4" x2="351.76" y2="379.4" stroke="#555" stroke-width="1.0"/>
<line x1="373.22" y1="377.9" x2="378.02" y2="377.9" stroke="#333" stroke-width="1.1"/>
<line x1="375.62" y1="375.5" x2="375.62" y2="380.29999999999995" stroke="#333" stroke-width="1.1"/>
<line x1="398.78000000000003" y1="377.9" x2="403.58" y2="377.9" stroke="#333" stroke-width="1.1"/>
<line x1="401.18" y1="375.5" x2="401.18" y2="380.29999999999995" stroke="#333" stroke-width="1.1"/>
<line x1="425.04" y1="379.4" x2="428.44" y2="379.4" stroke="#555" stroke-width="1.0"/>
<line x1="450.6" y1="379.4" x2="454.0" y2="379.4" stroke="#555" stroke-width="1.0"/>
<line x1="475.46000000000004" y1="377.9" x2="480.26" y2="377.9" stroke="#333" stroke-width="1.1"/>
<line x1="477.86" y1="375.5" x2="477.86" y2="380.29999999999995" stroke="#333" stroke-width="1.1"/>
<line x1="501.71999999999997" y1="379.4" x2="505.11999999999995" y2="379.4" stroke="#555" stroke-width="1.0"/>
<path d="M128.60,453.30L128.60,458.70M130.94,454.65L126.26,457.35M130.94,457.35L126.26,454.65" stroke="#555" stroke-width="1.0" stroke-linecap="round" fill="none"/>
<circle cx="128.60" cy="456.00" r="1.35" fill="#555"/>
<path d="M250.00,453.30L250.00,458.70M252.34,454.65L247.66,457.35M252.34,457.35L247.66,454.65" stroke="#555" stroke-width="1.0" stroke-linecap="round" fill="none"/>
<circle cx="250.00" cy="456.00" r="1.35" fill="#555"/>
<polyline points="70.5,516.2 76.5,513.7 81.6,503.5 85.0,493.3 88.4,478.0 91.8,459.4 94.3,439.0 96.3,428.5 98.6,439.0 100.3,464.4 102.0,490.0 104.5,507.0 107.9,517.0 112.0,519.3" fill="none" stroke="#a0a0a0" stroke-width="2.0" stroke-linejoin="round"/>
<polyline points="100.0,519.3 103.5,503.4 105.2,481.3 106.0,469.5 108.6,447.4 110.3,442.3 112.0,435.6 114.5,455.9 118.0,480.0 121.0,500.0 124.0,513.0 127.0,519.3" fill="none" stroke="#000" stroke-width="1.9" stroke-linejoin="round" stroke-dasharray="3,2"/>
<polyline points="93.5,519.3 98.4,515.2 101.8,496.6 103.5,469.5 105.2,464.4 106.9,455.9 107.7,439.0 109.4,433.9 110.6,428.8 112.8,428.8 113.3,444.0 115.3,447.4 116.7,466.0 118.7,483.0 120.4,498.3 123.0,510.1 125.5,517.0 128.9,519.3" fill="none" stroke="#000" stroke-width="2.2" stroke-linejoin="round"/>
<rect x="69.1" y="422.9" width="97.5" height="96.9" fill="none" stroke="#4a4a4a" stroke-width="1.6"/>
<text x="64.3" y="529.2" font-family="'Liberation Serif', serif" font-size="5.6" fill="#333">10<tspan dy="-2.0" font-size="4">0</tspan></text>
<line x1="68.8" y1="519.8" x2="68.8" y2="521.8" stroke="#666" stroke-width="0.8"/>
<text x="88.7" y="529.2" font-family="'Liberation Serif', serif" font-size="5.6" fill="#333">10<tspan dy="-2.0" font-size="4">1</tspan></text>
<line x1="93.2" y1="519.8" x2="93.2" y2="521.8" stroke="#666" stroke-width="0.8"/>
<text x="113.0" y="529.2" font-family="'Liberation Serif', serif" font-size="5.6" fill="#333">10<tspan dy="-2.0" font-size="4">2</tspan></text>
<line x1="117.5" y1="519.8" x2="117.5" y2="521.8" stroke="#666" stroke-width="0.8"/>
<text x="137.4" y="529.2" font-family="'Liberation Serif', serif" font-size="5.6" fill="#333">10<tspan dy="-2.0" font-size="4">3</tspan></text>
<line x1="141.9" y1="519.8" x2="141.9" y2="521.8" stroke="#666" stroke-width="0.8"/>
<text x="161.8" y="529.2" font-family="'Liberation Serif', serif" font-size="5.6" fill="#333">10<tspan dy="-2.0" font-size="4">4</tspan></text>
<line x1="166.3" y1="519.8" x2="166.3" y2="521.8" stroke="#666" stroke-width="0.8"/>
<polyline points="190.5,515.4 194.8,512.0 199.9,501.8 203.3,489.9 206.7,472.9 209.2,456.0 211.8,442.4 214.3,428.8 216.5,447.5 218.6,466.1 221.1,489.9 223.7,506.9 227.0,517.1 232.0,519.3" fill="none" stroke="#a0a0a0" stroke-width="2.0" stroke-linejoin="round"/>
<polyline points="215.0,519.3 219.0,512.0 222.0,500.0 224.0,482.0 226.0,462.0 228.0,443.0 230.0,432.0 232.3,429.5 234.5,436.0 236.5,450.0 238.5,468.0 240.5,484.0 243.0,495.0 244.7,510.0 247.0,516.0 249.0,519.3" fill="none" stroke="#000" stroke-width="1.9" stroke-linejoin="round" stroke-dasharray="3,2"/>
<polyline points="213.5,519.3 218.4,514.5 221.8,503.5 224.3,486.5 226.0,469.5 227.7,456.0 229.4,439.0 231.1,430.5 232.8,428.8 234.5,433.9 236.2,444.1 237.9,461.0 239.6,476.3 241.3,489.9 243.0,500.1 245.6,503.5 247.3,508.6 249.0,515.4 252.4,518.8 259.1,519.3" fill="none" stroke="#000" stroke-width="2.2" stroke-linejoin="round"/>
<rect x="188.8" y="422.7" width="95.7" height="97.3" fill="none" stroke="#4a4a4a" stroke-width="1.6"/>
<text x="184.0" y="529.2" font-family="'Liberation Serif', serif" font-size="5.6" fill="#333">10<tspan dy="-2.0" font-size="4">0</tspan></text>
<line x1="188.5" y1="520.0" x2="188.5" y2="522.0" stroke="#666" stroke-width="0.8"/>
<text x="207.9" y="529.2" font-family="'Liberation Serif', serif" font-size="5.6" fill="#333">10<tspan dy="-2.0" font-size="4">1</tspan></text>
<line x1="212.4" y1="520.0" x2="212.4" y2="522.0" stroke="#666" stroke-width="0.8"/>
<text x="231.8" y="529.2" font-family="'Liberation Serif', serif" font-size="5.6" fill="#333">10<tspan dy="-2.0" font-size="4">2</tspan></text>
<line x1="236.3" y1="520.0" x2="236.3" y2="522.0" stroke="#666" stroke-width="0.8"/>
<text x="255.8" y="529.2" font-family="'Liberation Serif', serif" font-size="5.6" fill="#333">10<tspan dy="-2.0" font-size="4">3</tspan></text>
<line x1="260.3" y1="520.0" x2="260.3" y2="522.0" stroke="#666" stroke-width="0.8"/>
<text x="279.7" y="529.2" font-family="'Liberation Serif', serif" font-size="5.6" fill="#333">10<tspan dy="-2.0" font-size="4">4</tspan></text>
<line x1="284.2" y1="520.0" x2="284.2" y2="522.0" stroke="#666" stroke-width="0.8"/>
<polyline points="302.5,515.4 307.6,510.3 311.9,501.8 316.1,493.3 319.5,476.3 322.1,459.4 324.6,440.7 327.2,428.8 329.2,442.4 331.4,464.4 334.0,489.9 336.5,508.6 339.9,517.9 344.0,519.3" fill="none" stroke="#a0a0a0" stroke-width="2.0" stroke-linejoin="round"/>
<polyline points="327.2,519.3 333.1,503.5 335.7,481.4 338.2,456.0 340.7,445.8 343.3,435.6 345.0,428.8 346.8,429.5 349.3,450.0 351.9,478.0 354.4,493.3 357.0,505.2 360.4,513.7 364.6,519.3" fill="none" stroke="#000" stroke-width="1.9" stroke-linejoin="round" stroke-dasharray="3,2"/>
<polyline points="325.5,519.3 328.9,513.7 332.3,506.9 334.8,495.0 336.5,481.4 338.2,469.5 339.9,466.1 342.4,465.3 344.5,456.0 345.8,439.0 347.2,428.8 348.9,428.8 350.1,447.5 351.8,464.4 352.7,471.2 354.4,472.9 356.1,481.4 358.3,486.5 360.0,496.7 361.7,503.5 363.8,495.0 365.5,501.8 368.0,510.3 371.4,514.5 374.0,517.1 376.5,516.2 379.0,518.8 382.4,519.3" fill="none" stroke="#000" stroke-width="2.2" stroke-linejoin="round"/>
<rect x="300.3" y="422.9" width="97.1" height="96.8" fill="none" stroke="#4a4a4a" stroke-width="1.6"/>
<text x="295.5" y="529.2" font-family="'Liberation Serif', serif" font-size="5.6" fill="#333">10<tspan dy="-2.0" font-size="4">0</tspan></text>
<line x1="300.0" y1="519.7" x2="300.0" y2="521.7" stroke="#666" stroke-width="0.8"/>
<text x="319.8" y="529.2" font-family="'Liberation Serif', serif" font-size="5.6" fill="#333">10<tspan dy="-2.0" font-size="4">1</tspan></text>
<line x1="324.3" y1="519.7" x2="324.3" y2="521.7" stroke="#666" stroke-width="0.8"/>
<text x="344.0" y="529.2" font-family="'Liberation Serif', serif" font-size="5.6" fill="#333">10<tspan dy="-2.0" font-size="4">2</tspan></text>
<line x1="348.5" y1="519.7" x2="348.5" y2="521.7" stroke="#666" stroke-width="0.8"/>
<text x="368.3" y="529.2" font-family="'Liberation Serif', serif" font-size="5.6" fill="#333">10<tspan dy="-2.0" font-size="4">3</tspan></text>
<line x1="372.8" y1="519.7" x2="372.8" y2="521.7" stroke="#666" stroke-width="0.8"/>
<text x="392.6" y="529.2" font-family="'Liberation Serif', serif" font-size="5.6" fill="#333">10<tspan dy="-2.0" font-size="4">4</tspan></text>
<line x1="397.1" y1="519.7" x2="397.1" y2="521.7" stroke="#666" stroke-width="0.8"/>
<polyline points="417.5,516.2 422.6,510.3 427.7,500.1 432.0,489.9 435.4,472.9 437.9,456.0 440.5,439.0 442.7,428.8 444.7,444.1 446.9,469.5 449.0,489.9 451.5,506.9 455.7,517.9 460.0,519.3" fill="none" stroke="#a0a0a0" stroke-width="2.0" stroke-linejoin="round"/>
<polyline points="441.0,519.3 445.0,512.0 448.3,496.7 450.9,476.3 453.4,452.6 456.2,435.6 459.6,428.8 462.5,442.4 464.3,465.0 466.0,489.9 468.6,505.2 472.0,515.4 475.4,519.3" fill="none" stroke="#000" stroke-width="1.9" stroke-linejoin="round" stroke-dasharray="3,2"/>
<polyline points="440.5,519.3 445.6,514.5 449.0,505.2 451.5,489.9 454.0,469.5 456.6,447.5 458.8,433.9 460.8,428.8 463.5,437.3 465.5,456.0 467.7,472.9 470.3,486.5 472.8,489.9 475.4,493.3 477.9,496.7 480.5,503.5 483.0,510.3 486.4,516.2 490.7,519.3" fill="none" stroke="#000" stroke-width="2.2" stroke-linejoin="round"/>
<rect x="415.7" y="422.7" width="97.6" height="97.1" fill="none" stroke="#4a4a4a" stroke-width="1.6"/>
<text x="410.9" y="529.2" font-family="'Liberation Serif', serif" font-size="5.6" fill="#333">10<tspan dy="-2.0" font-size="4">0</tspan></text>
<line x1="415.4" y1="519.8" x2="415.4" y2="521.8" stroke="#666" stroke-width="0.8"/>
<text x="435.3" y="529.2" font-family="'Liberation Serif', serif" font-size="5.6" fill="#333">10<tspan dy="-2.0" font-size="4">1</tspan></text>
<line x1="439.8" y1="519.8" x2="439.8" y2="521.8" stroke="#666" stroke-width="0.8"/>
<text x="459.7" y="529.2" font-family="'Liberation Serif', serif" font-size="5.6" fill="#333">10<tspan dy="-2.0" font-size="4">2</tspan></text>
<line x1="464.2" y1="519.8" x2="464.2" y2="521.8" stroke="#666" stroke-width="0.8"/>
<text x="484.1" y="529.2" font-family="'Liberation Serif', serif" font-size="5.6" fill="#333">10<tspan dy="-2.0" font-size="4">3</tspan></text>
<line x1="488.6" y1="519.8" x2="488.6" y2="521.8" stroke="#666" stroke-width="0.8"/>
<text x="508.5" y="529.2" font-family="'Liberation Serif', serif" font-size="5.6" fill="#333">10<tspan dy="-2.0" font-size="4">4</tspan></text>
<line x1="513.0" y1="519.8" x2="513.0" y2="521.8" stroke="#666" stroke-width="0.8"/>
<line x1="123.7" y1="468.1" x2="165.8" y2="468.1" stroke="#222" stroke-width="1.3"/>
<line x1="123.7" y1="464.8" x2="123.7" y2="471.40000000000003" stroke="#222" stroke-width="1.3"/>
<line x1="165.8" y1="464.8" x2="165.8" y2="471.40000000000003" stroke="#222" stroke-width="1.3"/>
<text x="130.8" y="464.8" font-family="'Liberation Serif', serif" font-size="8.6" fill="#1a1a1a" textLength="31" lengthAdjust="spacingAndGlyphs">4.0 ± 0.6</text>
<line x1="249.5" y1="467.5" x2="284.0" y2="467.5" stroke="#222" stroke-width="1.3"/>
<line x1="249.5" y1="464.2" x2="249.5" y2="470.8" stroke="#222" stroke-width="1.3"/>
<line x1="284.0" y1="464.2" x2="284.0" y2="470.8" stroke="#222" stroke-width="1.3"/>
<text x="252.7" y="464.8" font-family="'Liberation Serif', serif" font-size="8.6" fill="#1a1a1a" textLength="30" lengthAdjust="spacingAndGlyphs">4.9 ± 0.8</text>
<line x1="360.0" y1="467.2" x2="396.8" y2="467.2" stroke="#222" stroke-width="1.3"/>
<line x1="360.0" y1="463.9" x2="360.0" y2="470.5" stroke="#222" stroke-width="1.3"/>
<line x1="396.8" y1="463.9" x2="396.8" y2="470.5" stroke="#222" stroke-width="1.3"/>
<text x="361.5" y="464.8" font-family="'Liberation Serif', serif" font-size="8.6" fill="#1a1a1a" textLength="34.5" lengthAdjust="spacingAndGlyphs">13.7 ± 2.4</text>
<line x1="471.1" y1="467.0" x2="513.0" y2="467.0" stroke="#222" stroke-width="1.3"/>
<line x1="471.1" y1="463.7" x2="471.1" y2="470.3" stroke="#222" stroke-width="1.3"/>
<line x1="513.0" y1="463.7" x2="513.0" y2="470.3" stroke="#222" stroke-width="1.3"/>
<text x="474.5" y="464.8" font-family="'Liberation Serif', serif" font-size="8.6" fill="#1a1a1a" textLength="34.5" lengthAdjust="spacingAndGlyphs">12.3 ± 1.9</text>
<text x="99.6" y="411.1" font-family="'Liberation Serif', serif" font-size="12.5" fill="#000" textLength="34.8" lengthAdjust="spacingAndGlyphs">Ly49A</text>
<path d="M135.6,404.8H141.6M138.6,401.9V407.7" stroke="#333" stroke-width="0.9" fill="none"/>
<text x="209.2" y="413.7" font-family="'Liberation Serif', serif" font-size="12.5" fill="#000" textLength="41.2" lengthAdjust="spacingAndGlyphs">Ly49G2</text>
<path d="M251.6,407.1H257.6M254.6,404.2V410.0" stroke="#333" stroke-width="0.9" fill="none"/>
<text x="312.6" y="413.7" font-family="'Liberation Serif', serif" font-size="12.5" fill="#000" textLength="65.8" lengthAdjust="spacingAndGlyphs">NKG2A/C/E</text>
<path d="M379.8,406.3H385.8M382.8,403.4V409.2" stroke="#333" stroke-width="0.9" fill="none"/>
<text x="450.3" y="413.5" font-family="'Liberation Serif', serif" font-size="12.5" fill="#000" textLength="27.0" lengthAdjust="spacingAndGlyphs">NKR</text>
<path d="M477.9,406.0H480.7" stroke="#222" stroke-width="1.1" fill="none"/>
<text x="0" y="0" transform="translate(43.0,470.3) rotate(-90)" font-family="'Liberation Serif', serif" font-size="12.8" text-anchor="middle" fill="#000" textLength="50.3" lengthAdjust="spacingAndGlyphs">cell count</text>
<line x1="68.8" y1="538" x2="508" y2="538" stroke="#111" stroke-width="2"/>
<path d="M503.5,534.8 L513.4,538 L503.5,541.2 Z" fill="#111"/>
<text x="278.3" y="559.1" font-family="'Liberation Serif', serif" font-size="12.8" fill="#000" textLength="30.2" lengthAdjust="spacingAndGlyphs">CD69</text>
<line x1="80.4" y1="582.7" x2="117.3" y2="582.7" stroke="#c0c0c0" stroke-width="3"/>
<text x="125.5" y="586" font-family="'Liberation Serif', serif" font-size="12.8" fill="#000" textLength="88.2" lengthAdjust="spacingAndGlyphs">unstained control</text>
<line x1="234.8" y1="582.6" x2="271.3" y2="582.6" stroke="#000" stroke-width="2.2" stroke-dasharray="3.6,2.8"/>
<text x="278.8" y="585.8" font-family="'Liberation Serif', serif" font-size="12.8" fill="#000" textLength="73.7" lengthAdjust="spacingAndGlyphs">no stimulation</text>
<line x1="374" y1="582.4" x2="410.9" y2="582.4" stroke="#000" stroke-width="2.6"/>
<text x="416.3" y="585.8" font-family="'Liberation Serif', serif" font-size="12.8" fill="#000" textLength="85.9" lengthAdjust="spacingAndGlyphs">CD3 stimulation</text>
</svg>
</body></html>
